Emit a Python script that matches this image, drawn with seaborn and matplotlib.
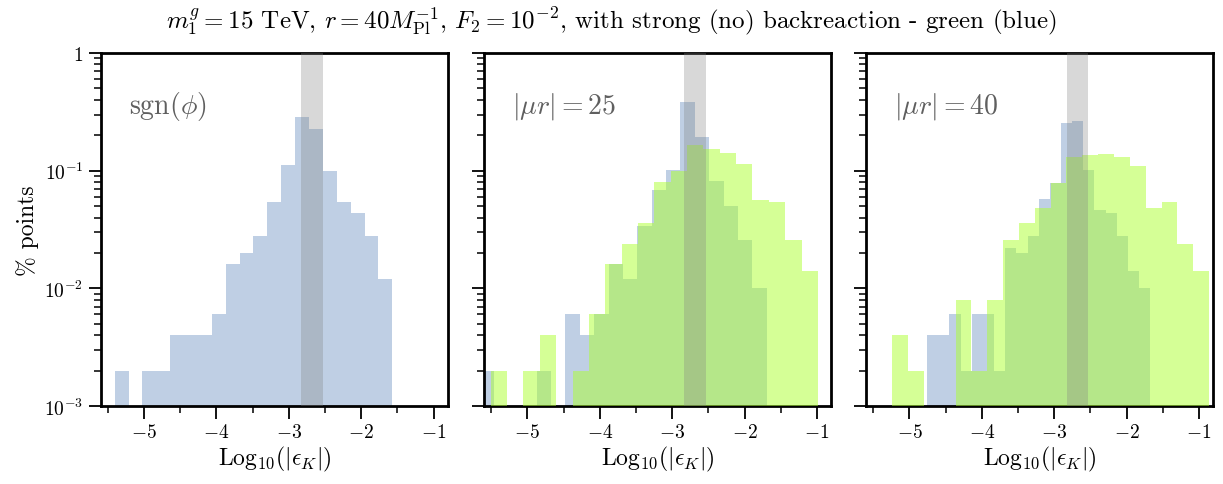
import numpy as np
import matplotlib
matplotlib.use("Agg")
import matplotlib.pyplot as plt
from matplotlib.ticker import MultipleLocator, FixedLocator, FixedFormatter, LogLocator, NullFormatter
import seaborn as sns

# ---------------- data ----------------
title = (r"$m_1^g = 15$ TeV, $r = 40M_{\rm Pl}^{-1}$, $F_2 = 10^{-2}$, "
         r"with strong (no) backreaction - green (blue)")
panel_labels = [r"${\rm sgn}(\phi)$", r"$|\mu r| = 25$", r"$|\mu r| = 40$"]
xlabel = r"Log$_{10}(|\epsilon_K|)$"
ylabel = r"% points"
ytick_vals = [1e-3, 1e-2, 1e-1, 1]
ytick_labels = [r"$10^{-3}$", r"$10^{-2}$", r"$10^{-1}$", r"$1$"]
xtick_vals = [-5, -4, -3, -2, -1]
band = (-2.83, -2.53)

n_bins = 20
# panel 1: sgn(phi) - blue only
p1_blue_range = (-5.406, -1.571)
p1_blue = [0.002, 0, 0.002, 0.002, 0.004, 0.004, 0.004, 0.006, 0.016, 0.020,
           0.028, 0.054, 0.112, 0.286, 0.228, 0.100, 0.054, 0.044, 0.028, 0.012]
# panel 2: |mu r| = 25
p2_blue_range = (-5.665, -1.695)
p2_blue = [0.002, 0, 0, 0, 0.002, 0, 0.006, 0.004, 0.006, 0.016,
           0.012, 0.034, 0.068, 0.102, 0.380, 0.192, 0.082, 0.050, 0.026, 0.010]
p2_green_range = (-5.506, -0.986)
p2_green = [0.002, 0, 0.002, 0.004, 0, 0.002, 0.006, 0.016, 0.024, 0.036,
            0.080, 0.100, 0.166, 0.152, 0.140, 0.114, 0.056, 0.054, 0.026, 0.014]
# panel 3: |mu r| = 40
p3_blue_range = (-4.755, -1.675)
p3_blue = [0.004, 0.004, 0.006, 0.002, 0.006, 0.006, 0.002, 0.022, 0.020, 0.028,
           0.058, 0.078, 0.254, 0.264, 0.102, 0.046, 0.044, 0.028, 0.014, 0.010]
p3_green_range = (-5.239, -0.860)
p3_green = [0.004, 0.002, 0, 0, 0.008, 0.002, 0.008, 0.026, 0.036, 0.048,
            0.078, 0.132, 0.136, 0.138, 0.130, 0.110, 0.048, 0.054, 0.024, 0.014]

panels = [
    [(p1_blue_range, p1_blue)],
    [(p2_blue_range, p2_blue), (p2_green_range, p2_green)],
    [(p3_blue_range, p3_blue), (p3_green_range, p3_green)],
]
colors = [("lightsteelblue", 0.8), ("greenyellow", 0.5)]

# ---------------- style ----------------
sns.set_theme(style="ticks")
plt.rcParams.update({
    "font.family": "serif",
    "font.serif": ["cmr10", "DejaVu Serif"],
    "mathtext.fontset": "cm",
    "axes.formatter.use_mathtext": True,
    "axes.unicode_minus": True,
    "axes.edgecolor": "black",
    "axes.linewidth": 2.0,
    "xtick.color": "black",
    "ytick.color": "black",
    "text.color": "black",
    "axes.labelcolor": "black",
})

fig = plt.figure(figsize=(12.23, 4.85), dpi=100)
lefts = [0.0823, 0.3957, 0.7081]
axes = [fig.add_axes([l, 0.1608, 0.2841, 0.7278]) for l in lefts]

for i, (ax, series) in enumerate(zip(axes, panels)):
    for j, (rng, h) in enumerate(series):
        edges = np.linspace(rng[0], rng[1], n_bins + 1)
        centers = 0.5 * (edges[:-1] + edges[1:])
        col, a = colors[j]
        sns.histplot(x=centers, weights=h, bins=n_bins, binrange=rng, ax=ax,
                     color=col, alpha=a, linewidth=0, stat="count", zorder=2 + j)
    ax.axvspan(band[0], band[1], color="gray", alpha=0.3, lw=0, zorder=5)
    ax.set_yscale("log")
    ax.set_ylim(1e-3, 1)
    ax.set_xlim(-5.6, -0.8)
    ax.xaxis.set_major_locator(FixedLocator(xtick_vals))
    ax.xaxis.set_minor_locator(MultipleLocator(0.5))
    ax.yaxis.set_major_locator(FixedLocator(ytick_vals))
    ax.yaxis.set_minor_locator(LogLocator(base=10, subs=np.arange(2, 10)))
    ax.yaxis.set_minor_formatter(NullFormatter())
    if i == 0:
        ax.yaxis.set_major_formatter(FixedFormatter(ytick_labels))
        ax.set_ylabel(ylabel, fontsize=17)
    else:
        ax.yaxis.set_major_formatter(NullFormatter())
        ax.set_ylabel("")
    ax.tick_params(axis="both", which="major", direction="out", length=9, width=1.3,
                   labelsize=14)
    ax.tick_params(axis="both", which="minor", direction="out", length=5, width=1.1)
    ax.set_xlabel(xlabel, fontsize=17, labelpad=2)
    ax.text(0.082, 0.85, panel_labels[i], transform=ax.transAxes, fontsize=20,
            color="#5f5f5f", va="center", ha="left")
    for s in ax.spines.values():
        s.set_visible(True)
        s.set_linewidth(2.0)

fig.suptitle(title, fontsize=18, y=0.99)
fig.savefig("out.png", dpi=100)
